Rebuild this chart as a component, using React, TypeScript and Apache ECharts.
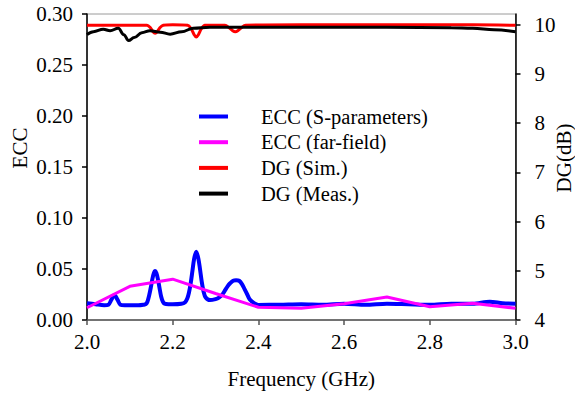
import React, { useEffect, useRef } from "react";
import * as echarts from "echarts";

// Frequency (GHz) / ECC pairs, S-parameter based
const eccSFreq = [
  2.0, 2.02, 2.04, 2.05, 2.057, 2.064, 2.071, 2.078, 2.088, 2.1, 2.12, 2.132, 2.137, 2.141, 2.145,
  2.149, 2.153, 2.156, 2.159, 2.162, 2.165, 2.169, 2.173, 2.177, 2.181, 2.19, 2.2, 2.22, 2.229, 2.234,
  2.238, 2.242, 2.246, 2.25, 2.255, 2.26, 2.264, 2.268, 2.272, 2.277, 2.287, 2.3, 2.308, 2.316, 2.322,
  2.328, 2.334, 2.341, 2.348, 2.355, 2.362, 2.368, 2.374, 2.38, 2.39, 2.4, 2.45, 2.5, 2.55, 2.6,
  2.65, 2.7, 2.75, 2.8, 2.85, 2.9, 2.94, 2.97, 3.0,
];
const eccSValues = [
  0.0165, 0.0155, 0.0145, 0.015, 0.02, 0.0245, 0.02, 0.015, 0.0145, 0.0145, 0.0145, 0.015, 0.0155, 0.018, 0.024,
  0.032, 0.041, 0.046, 0.048, 0.046, 0.041, 0.032, 0.023, 0.018, 0.016, 0.0155, 0.0155, 0.016, 0.0175, 0.021,
  0.027, 0.036, 0.048, 0.06, 0.067, 0.06, 0.049, 0.037, 0.028, 0.022, 0.0195, 0.0205, 0.022, 0.025, 0.029,
  0.033, 0.036, 0.0385, 0.039, 0.0385, 0.035, 0.03, 0.025, 0.02, 0.0165, 0.0148, 0.015, 0.0155, 0.015, 0.016,
  0.015, 0.016, 0.0155, 0.015, 0.016, 0.016, 0.018, 0.0165, 0.016,
];

// ECC from far-field patterns
const eccFFreq = [2.0, 2.1, 2.2, 2.3, 2.4, 2.5, 2.6, 2.7, 2.8, 2.9, 3.0];
const eccFValues = [0.012, 0.033, 0.04, 0.026, 0.0125, 0.0115, 0.016, 0.0225, 0.013, 0.0165, 0.0115];

// Diversity gain, simulated
const dgSimFreq = [
  2.0, 2.1, 2.14, 2.148, 2.154, 2.159, 2.164, 2.17, 2.178, 2.2, 2.235, 2.243, 2.25, 2.255, 2.26,
  2.267, 2.275, 2.3, 2.322, 2.332, 2.34, 2.346, 2.352, 2.36, 2.37, 2.5, 2.7, 2.9, 3.0,
];
const dgSimValues = [
  9.99, 9.99, 9.99, 9.94, 9.86, 9.83, 9.86, 9.94, 9.99, 10.0, 9.99, 9.92, 9.8, 9.75, 9.8,
  9.92, 9.99, 9.99, 9.99, 9.94, 9.88, 9.86, 9.88, 9.94, 9.99, 10.0, 10.0, 10.0, 9.99,
];

// Diversity gain, measured
const dgMeasFreq = [
  2.0, 2.015, 2.038, 2.054, 2.073, 2.086, 2.097, 2.11, 2.128, 2.147, 2.171, 2.194, 2.221, 2.248,
  2.287, 2.33, 2.5, 2.7, 2.85, 2.9, 2.95, 3.0,
];
const dgMeasValues = [
  9.8, 9.86, 9.91, 9.88, 9.93, 9.8, 9.68, 9.74, 9.84, 9.88, 9.85, 9.81, 9.86, 9.93,
  9.95, 9.95, 9.95, 9.95, 9.94, 9.93, 9.9, 9.86,
];

const xTicks = [2.0, 2.2, 2.4, 2.6, 2.8, 3.0];
const dgTicks = [4, 5, 6, 7, 8, 9, 10];

const FONT = "'Liberation Serif', 'Times New Roman', serif";

const pairs = (xs: number[], ys: number[]) => xs.map((x, i) => [x, ys[i]]);

export default function App() {
  const ref = useRef<HTMLDivElement>(null);

  useEffect(() => {
    if (!ref.current) return;
    const chart = echarts.init(ref.current, undefined, { renderer: "svg" });
    const axisText = { fontFamily: FONT, fontSize: 21, color: "#000" };
    chart.setOption({
      animation: false,
      backgroundColor: "#fff",
      grid: {
        left: 87,
        right: 59.5,
        top: 14,
        bottom: 77,
        outerBoundsMode: "none",
        containLabel: false,
        show: true,
        borderColor: "#9a9a9a",
        borderWidth: 1,
      },
      // vertical axis titles
      graphic: [
        {
          type: "text",
          x: 20,
          y: 148,
          rotation: Math.PI / 2,
          style: { text: "ECC", fontFamily: FONT, fontSize: 21, fill: "#000", align: "center", verticalAlign: "middle" },
        },
        {
          type: "text",
          x: 564,
          y: 158,
          rotation: Math.PI / 2,
          style: { text: "DG(dB)", fontFamily: FONT, fontSize: 21, fill: "#000", align: "center", verticalAlign: "middle" },
        },
      ],
      legend: {
        orient: "vertical",
        left: 194,
        top: 101,
        itemWidth: 29,
        itemHeight: 4,
        itemGap: 4.7,
        icon: "rect",
        textStyle: {
          fontFamily: FONT,
          fontSize: 20.5,
          lineHeight: 20,
          color: "#000",
          padding: [0, 0, 0, 28],
        },
        data: ["ECC (S-parameters)", "ECC (far-field)", "DG (Sim.)", "DG (Meas.)"],
      },
      xAxis: {
        type: "value",
        min: 2.0,
        max: 3.0,
        interval: 0.2,
        name: "Frequency (GHz)",
        nameLocation: "middle",
        nameGap: 48,
        nameTextStyle: axisText,
        axisLine: { show: true, lineStyle: { color: "#555", width: 1.5 } },
        axisTick: { show: true, inside: false, length: 5, lineStyle: { color: "#555", width: 1.5 }, customValues: xTicks },
        axisLabel: { ...axisText, margin: 11, customValues: xTicks, formatter: (v: number) => v.toFixed(1) },
        splitLine: { show: false },
      },
      yAxis: [
        {
          type: "value",
          position: "left",
          min: 0,
          max: 0.3,
          interval: 0.05,
          axisLine: { show: true, lineStyle: { color: "#000", width: 1.5 } },
          axisTick: { show: true, inside: false, length: 5, lineStyle: { color: "#000", width: 1.5 } },
          axisLabel: { ...axisText, margin: 14, formatter: (v: number) => v.toFixed(2) },
          splitLine: { show: false },
        },
        {
          type: "value",
          position: "right",
          min: 4,
          max: 10.22,
          axisLine: { show: true, lineStyle: { color: "#000", width: 1.5 } },
          axisTick: { show: true, inside: false, length: 5, lineStyle: { color: "#000", width: 1.5 }, customValues: dgTicks },
          axisLabel: { ...axisText, margin: 19, customValues: dgTicks, formatter: (v: number) => String(v) },
          splitLine: { show: false },
        },
      ],
      series: [
        {
          name: "ECC (S-parameters)",
          type: "line",
          yAxisIndex: 0,
          data: pairs(eccSFreq, eccSValues),
          smooth: 0.3,
          symbol: "none",
          lineStyle: { color: "#0000ff", width: 4 },
          itemStyle: { color: "#0000ff" },
          z: 3,
        },
        {
          name: "ECC (far-field)",
          type: "line",
          yAxisIndex: 0,
          data: pairs(eccFFreq, eccFValues),
          symbol: "none",
          lineStyle: { color: "#ff00ff", width: 3 },
          itemStyle: { color: "#ff00ff" },
          z: 4,
        },
        {
          name: "DG (Sim.)",
          type: "line",
          yAxisIndex: 1,
          data: pairs(dgSimFreq, dgSimValues),
          smooth: 0.3,
          symbol: "none",
          lineStyle: { color: "#ff0000", width: 3 },
          itemStyle: { color: "#ff0000" },
          z: 3,
        },
        {
          name: "DG (Meas.)",
          type: "line",
          yAxisIndex: 1,
          data: pairs(dgMeasFreq, dgMeasValues),
          smooth: 0.4,
          smoothMonotone: "x",
          symbol: "none",
          lineStyle: { color: "#000000", width: 3 },
          itemStyle: { color: "#000000" },
          z: 4,
        },
      ],
    });
    return () => chart.dispose();
  }, []);

  return (
    <div
      ref={ref}
      style={{ position: "fixed", left: 0, top: 0, width: 575, height: 397, background: "#fff" }}
    />
  );
}
